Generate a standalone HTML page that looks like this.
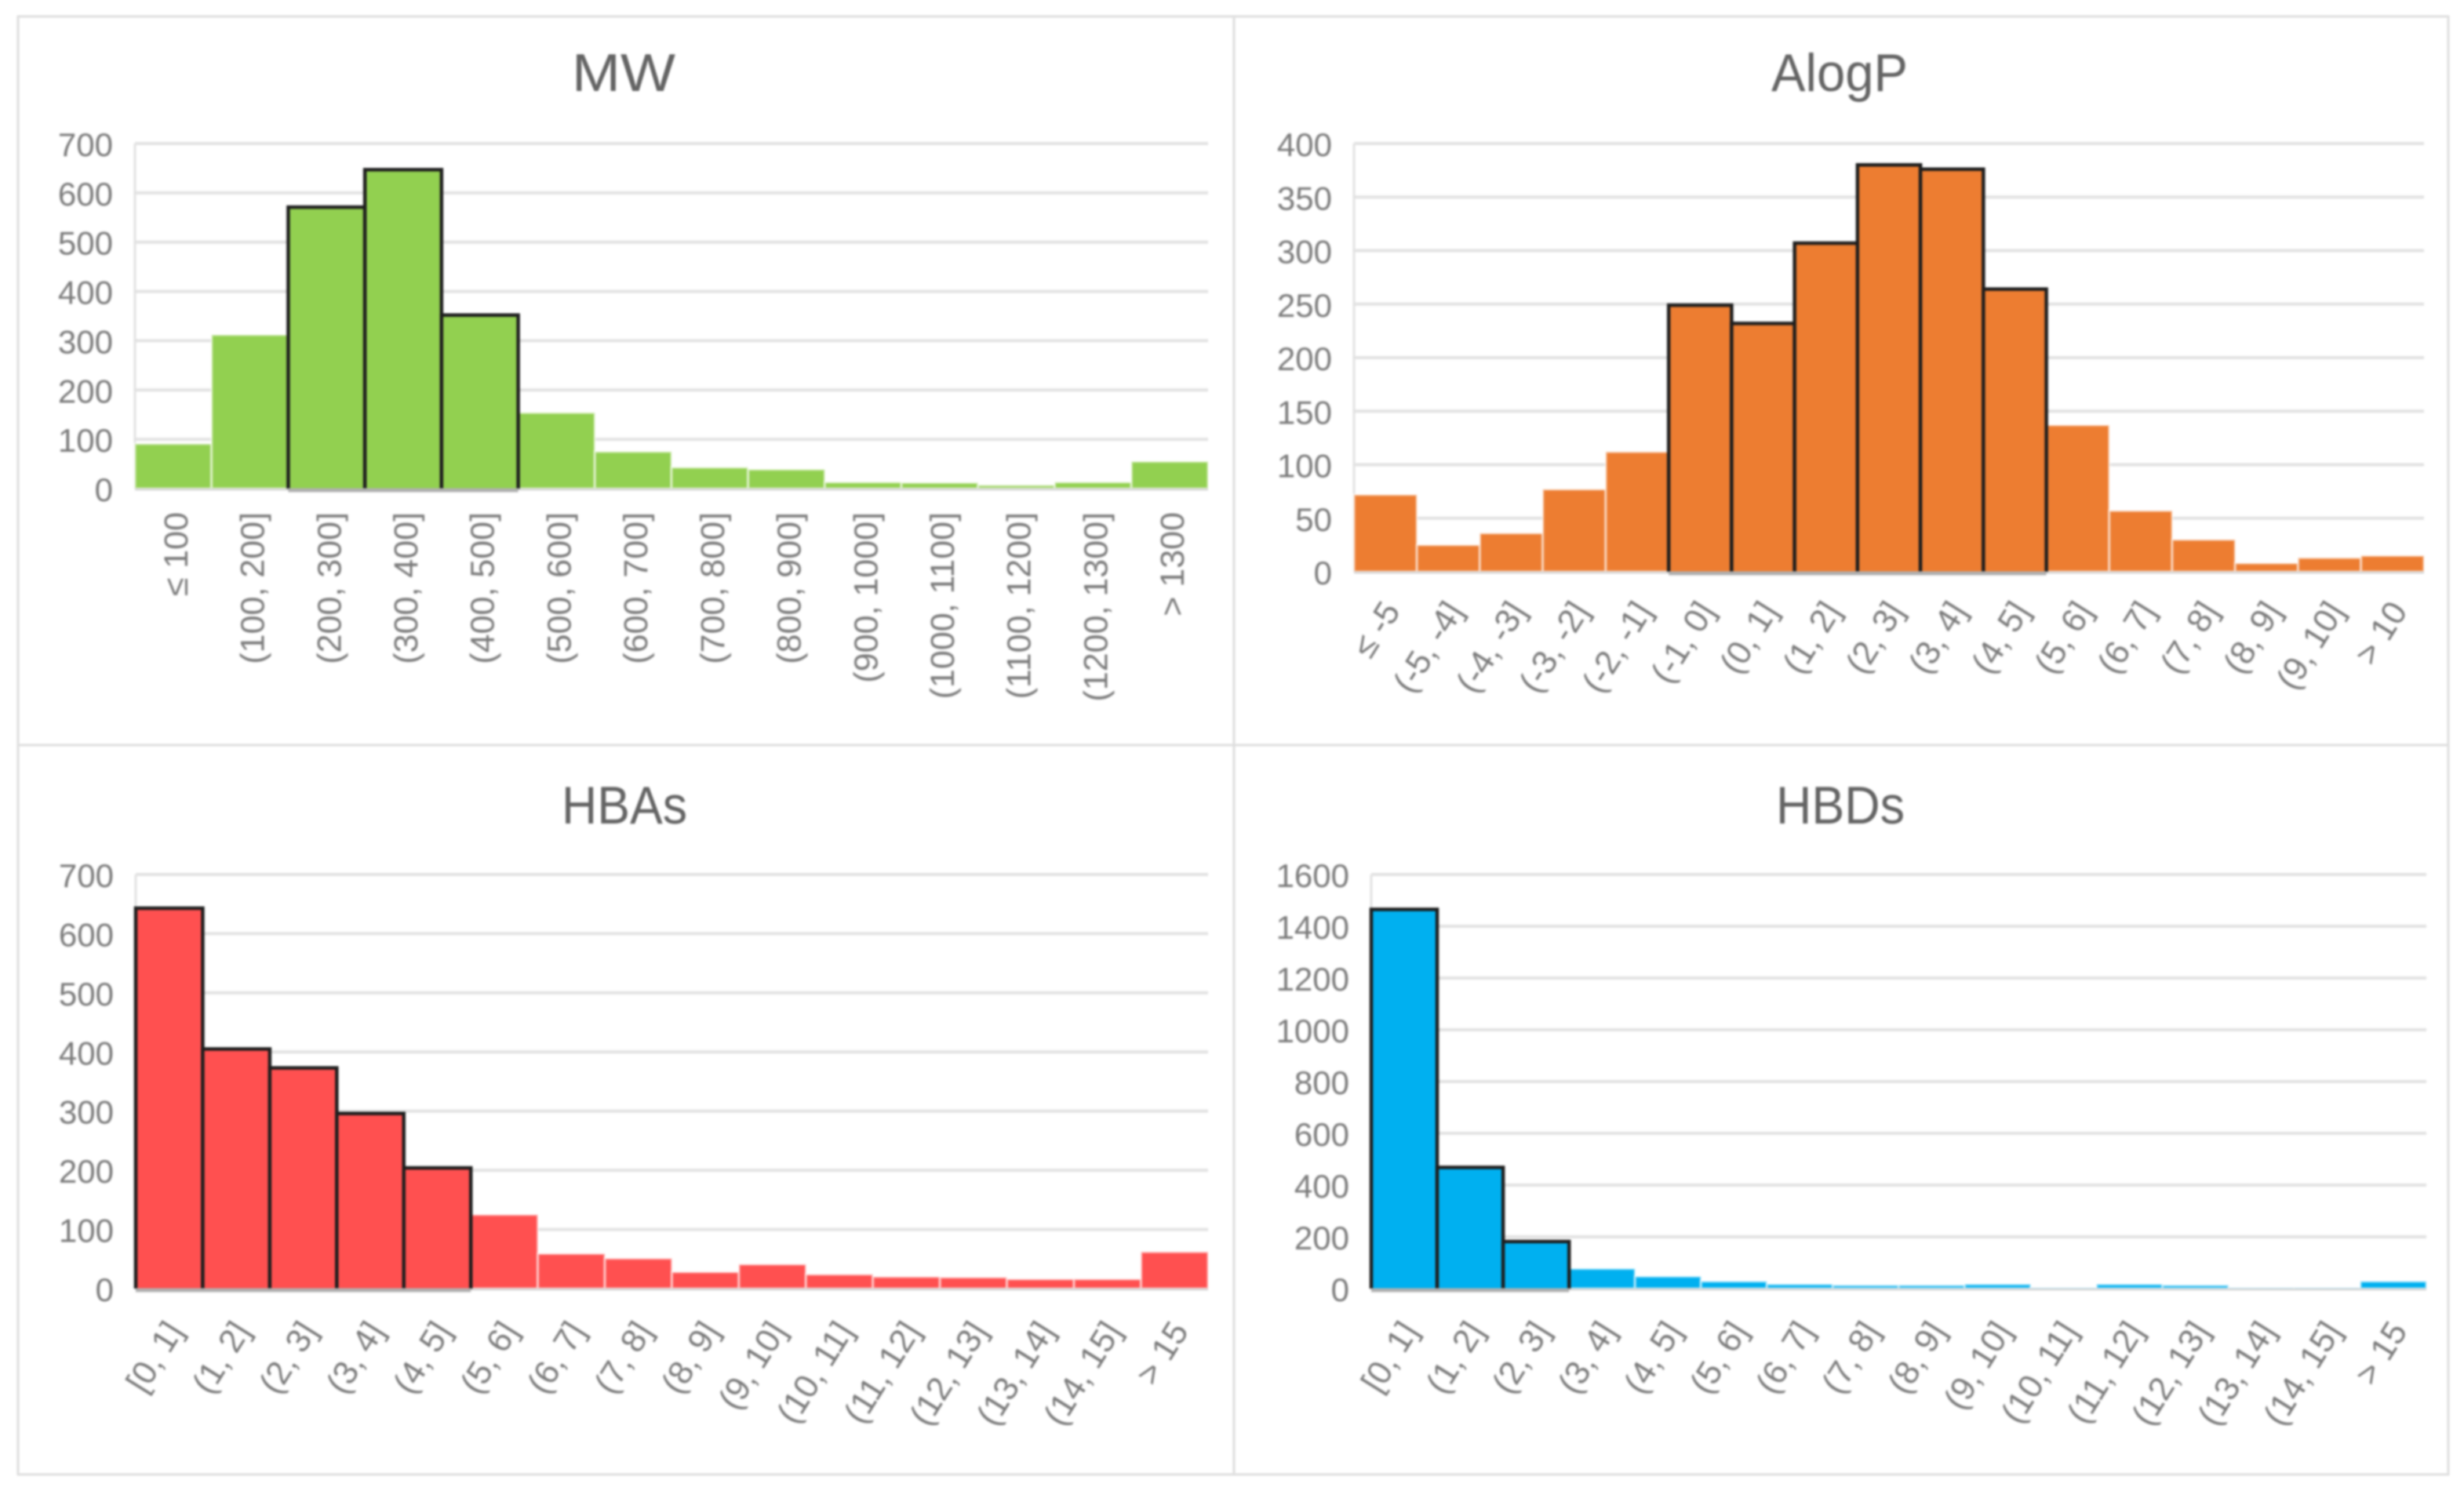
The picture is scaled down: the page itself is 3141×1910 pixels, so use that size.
<!DOCTYPE html>
<html lang="en">
<head>
<meta charset="utf-8">
<title>Molecular property histograms</title>
<style>
  html, body { margin: 0; padding: 0; background: #fff; }
  #figure { display: block; width: 3141px; height: 1910px; }
  #figure text { font-family: "Liberation Sans", "DejaVu Sans", sans-serif; }
  .title { font-size: 68px; fill: #636363; text-anchor: middle; }
  .ytick { font-size: 42px; fill: #7b7b7b; text-anchor: end; }
  .xtick { font-size: 43px; fill: #7b7b7b; text-anchor: end; }
</style>
</head>
<body>
<svg id="figure" xmlns="http://www.w3.org/2000/svg" width="3141" height="1910" viewBox="0 0 3141 1910">
  <g id="soft" style="filter: blur(1.3px)">
    <rect x="0" y="0" width="3141" height="1910" fill="#ffffff"/>
    <g fill="none" stroke="#dedede" stroke-width="3">
      <rect x="23" y="21" width="3098" height="1859"/>
      <line x1="1573" y1="21" x2="1573" y2="1880"/>
      <line x1="23" y1="950" x2="3121" y2="950"/>
    </g>
    <text class="title" x="795" y="116" textLength="132" lengthAdjust="spacingAndGlyphs">MW</text>
    <text class="title" x="2345" y="116" textLength="174" lengthAdjust="spacingAndGlyphs">AlogP</text>
    <text class="title" x="796" y="1050" textLength="160" lengthAdjust="spacingAndGlyphs">HBAs</text>
    <text class="title" x="2346" y="1050" textLength="164" lengthAdjust="spacingAndGlyphs">HBDs</text>
    <g id="mw-chart"></g>
    <g id="alogp-chart"></g>
    <g id="hbas-chart"></g>
    <g id="hbds-chart"></g>
  </g>
</svg>
<script>
// Chart data
const mwCategories = ["≤ 100","(100, 200]","(200, 300]","(300, 400]","(400, 500]","(500, 600]","(600, 700]","(700, 800]","(800, 900]","(900, 1000]","(1000, 1100]","(1100, 1200]","(1200, 1300]","> 1300"];
const mwValues = [91, 312, 571, 647, 352, 154, 75, 43, 39, 13, 12, 7, 13, 55];
const mwTicks = [0, 100, 200, 300, 400, 500, 600, 700];
const mwOutlined = ["(200, 300]","(300, 400]","(400, 500]"];

const alogpCategories = ["≤ -5","(-5, -4]","(-4, -3]","(-3, -2]","(-2, -1]","(-1, 0]","(0, 1]","(1, 2]","(2, 3]","(3, 4]","(4, 5]","(5, 6]","(6, 7]","(7, 8]","(8, 9]","(9, 10]","> 10"];
const alogpValues = [72, 25, 36, 77, 112, 249, 232, 307, 380, 376, 264, 137, 57, 30, 8, 13, 15];
const alogpTicks = [0, 50, 100, 150, 200, 250, 300, 350, 400];
const alogpOutlined = ["(-1, 0]","(0, 1]","(1, 2]","(2, 3]","(3, 4]","(4, 5]"];

const hbaCategories = ["[0, 1]","(1, 2]","(2, 3]","(3, 4]","(4, 5]","(5, 6]","(6, 7]","(7, 8]","(8, 9]","(9, 10]","(10, 11]","(11, 12]","(12, 13]","(13, 14]","(14, 15]","> 15"];
const hbaValues = [643, 405, 373, 296, 204, 125, 59, 51, 28, 41, 24, 20, 19, 16, 16, 62];
const hbaTicks = [0, 100, 200, 300, 400, 500, 600, 700];
const hbaOutlined = ["[0, 1]","(1, 2]","(2, 3]","(3, 4]","(4, 5]"];

const hbdCategories = ["[0, 1]","(1, 2]","(2, 3]","(3, 4]","(4, 5]","(5, 6]","(6, 7]","(7, 8]","(8, 9]","(9, 10]","(10, 11]","(11, 12]","(12, 13]","(13, 14]","(14, 15]","> 15"];
const hbdValues = [1465, 468, 182, 77, 47, 28, 17, 13, 13, 17, 3, 17, 13, 3, 3, 28];
const hbdTicks = [0, 200, 400, 600, 800, 1000, 1200, 1400, 1600];
const hbdOutlined = ["[0, 1]","(1, 2]","(2, 3]"];

const SVG_NS = "http://www.w3.org/2000/svg";

function make(parent, tag, attrs) {
  const el = document.createElementNS(SVG_NS, tag);
  for (const key in attrs) el.setAttribute(key, attrs[key]);
  parent.appendChild(el);
  return el;
}

function slug(label) {
  return label.replace(/≤/g, "le").replace(/>/g, "gt").replace(/[^a-z0-9-]+/gi, "-").replace(/^-+|-+$/g, "");
}

function drawHistogram(opts) {
  const root = document.getElementById(opts.id);
  const { left, right, top, bottom, fill, categories, values, ticks, outlined, labelAngle, labelDx, labelDy } = opts;
  const maxTick = Math.max.apply(null, ticks);
  const bandWidth = (right - left) / categories.length;
  const xScale = i => left + i * bandWidth;
  const yScale = v => bottom - (v / maxTick) * (bottom - top);

  ticks.forEach(t => {
    if (t !== 0) {
      const grid = make(root, "line", { x1: left, x2: right, y1: yScale(t), y2: yScale(t), stroke: "#e2e2e2", "stroke-width": 4 });
      
      
    }
    const label = make(root, "text", { class: "ytick", x: left - 28, y: yScale(t) + 16 });
    label.textContent = String(t);
    
    
  });

  const axisY = make(root, "line", { x1: left, x2: left, y1: top, y2: bottom, stroke: "#e2e2e2", "stroke-width": 3 });
  
  

  categories.forEach((cat, i) => {
    const isOutlined = outlined.indexOf(cat) >= 0;
    if (isOutlined) return;
    const y = yScale(values[i]);
    const bar = make(root, "rect", { x: xScale(i), y: y, width: bandWidth, height: bottom - y, fill: fill, stroke: "#ffffff", "stroke-opacity": 0.55, "stroke-width": 3 });
    
    
  });

  const axisX = make(root, "line", { x1: left, x2: right, y1: bottom + 1, y2: bottom + 1, stroke: "#d8d8d8", "stroke-width": 3 });
  
  

  categories.forEach((cat, i) => {
    const isOutlined = outlined.indexOf(cat) >= 0;
    if (!isOutlined) return;
    const y = yScale(values[i]);
    const x0 = xScale(i);
    const x1 = xScale(i + 1);
    const bar = make(root, "rect", { x: x0, y: y, width: bandWidth, height: bottom - y, fill: fill });
    
    
    const edge = make(root, "path", { d: "M" + x0 + " " + bottom + "V" + y + "H" + x1 + "V" + bottom, fill: "none", stroke: "#1e1e1e", "stroke-width": 4.5 });
    
    
  });

  if (outlined.length) {
    const first = categories.indexOf(outlined[0]);
    const shade = make(root, "line", { x1: xScale(first), x2: xScale(first + outlined.length), y1: bottom + 2, y2: bottom + 2, stroke: "#b0b0b0", "stroke-width": 5 });
    
    
  }

  categories.forEach((cat, i) => {
    const cx = xScale(i) + bandWidth / 2 + labelDx;
    const cy = bottom + labelDy;
    const label = make(root, "text", { class: "xtick", x: cx, y: cy, transform: "rotate(" + labelAngle + " " + cx + " " + cy + ")" });
    label.textContent = cat;
    
    
  });
}

drawHistogram({ id: "mw-chart", left: 172, right: 1540, top: 183, bottom: 623, fill: "#92d050",
  categories: mwCategories, values: mwValues, ticks: mwTicks, outlined: mwOutlined,
  labelAngle: -90, labelDx: 18, labelDy: 30 });
drawHistogram({ id: "alogp-chart", left: 1726, right: 3090, top: 183, bottom: 729, fill: "#ed7d31",
  categories: alogpCategories, values: alogpValues, ticks: alogpTicks, outlined: alogpOutlined,
  labelAngle: -58, labelDx: 20, labelDy: 50 });
drawHistogram({ id: "hbas-chart", left: 173, right: 1540, top: 1115, bottom: 1643, fill: "#ff5050",
  categories: hbaCategories, values: hbaValues, ticks: hbaTicks, outlined: hbaOutlined,
  labelAngle: -58, labelDx: 19, labelDy: 54 });
drawHistogram({ id: "hbds-chart", left: 1748, right: 3093, top: 1115, bottom: 1643, fill: "#00b0f0",
  categories: hbdCategories, values: hbdValues, ticks: hbdTicks, outlined: hbdOutlined,
  labelAngle: -58, labelDx: 19, labelDy: 54 });
</script>
</body>
</html>
